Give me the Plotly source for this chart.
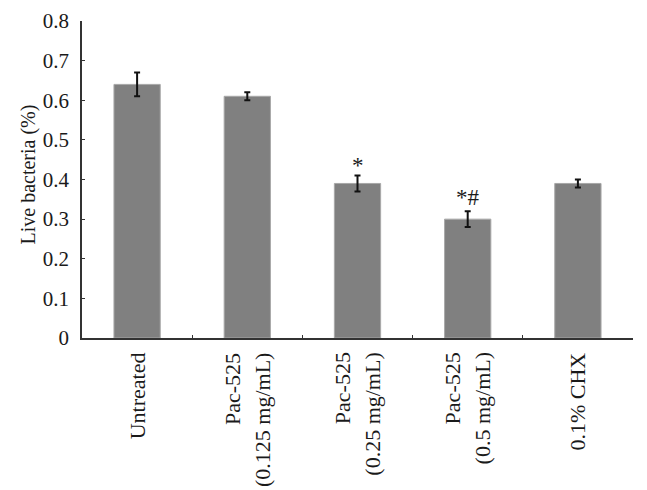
import plotly.graph_objects as go

categories = ["Untreated", "Pac-525 (0.125 mg/mL)", "Pac-525 (0.25 mg/mL)", "Pac-525 (0.5 mg/mL)", "0.1% CHX"]
label_lines = [["Untreated"], ["Pac-525", "(0.125 mg/mL)"], ["Pac-525", "(0.25 mg/mL)"],
               ["Pac-525", "(0.5 mg/mL)"], ["0.1% CHX"]]
values = [0.64, 0.61, 0.39, 0.30, 0.39]
errors = [0.03, 0.01, 0.02, 0.02, 0.01]
marks = ["", "", "*", "*#", ""]
mark_y = [None, None, 0.435, 0.355, None]
y_ticks = [0, 0.1, 0.2, 0.3, 0.4, 0.5, 0.6, 0.7, 0.8]
y_ticktext = ["0", "0.1", "0.2", "0.3", "0.4", "0.5", "0.6", "0.7", "0.8"]
y_title = "Live bacteria (%)"

FONT = "Liberation Serif"
TXT = "#1a1a1a"

fig = go.Figure()
fig.add_trace(go.Bar(
    x=categories, y=values, width=0.42,
    marker=dict(color="#808080", line=dict(color="#a8a8a8", width=1)),
    error_y=dict(type="data", array=errors, visible=True, color="#111111", thickness=2, width=3),
))

annotations = []
for cat, m, my in zip(categories, marks, mark_y):
    if m:
        annotations.append(dict(x=cat, y=my, xref="x", yref="y", text=m, showarrow=False,
                                font=dict(family=FONT, size=23, color=TXT), yanchor="middle"))
for cat, lines in zip(categories, label_lines):
    n = len(lines)
    for i, ln in enumerate(lines):
        shift = (i - (n - 1) / 2) * 30
        annotations.append(dict(x=cat, y=-0.04, xref="x", yref="paper", text=ln, showarrow=False,
                                textangle=-90, yanchor="top", xanchor="center", xshift=shift,
                                font=dict(family=FONT, size=22, color=TXT)))
annotations.append(dict(x=0, y=0.5, xref="paper", yref="paper", text=y_title, showarrow=False,
                        textangle=-90, xanchor="center", yanchor="middle", xshift=-54, yshift=5,
                        font=dict(family=FONT, size=20, color=TXT)))

fig.update_layout(
    width=639, height=482,
    margin=dict(l=74, r=14, t=13, b=152),
    paper_bgcolor="white", plot_bgcolor="white",
    showlegend=False,
    font=dict(family=FONT, size=20, color=TXT),
    annotations=annotations,
    xaxis=dict(type="category", range=[-0.5, 4.5], showticklabels=False, automargin=False,
               showline=True, linecolor="#333333", linewidth=1.5,
               ticks="inside", ticklen=3, tickcolor="#333333", tickson="boundaries",
               showgrid=False, zeroline=False),
    yaxis=dict(range=[0, 0.8], tickvals=y_ticks, ticktext=y_ticktext, automargin=False,
               showline=True, linecolor="#333333", linewidth=1.5,
               ticks="inside", ticklen=3, tickcolor="#333333", ticklabelstandoff=7,
               showgrid=False, zeroline=False,
               tickfont=dict(family=FONT, size=21, color=TXT)),
)

fig.write_html("out.html")
